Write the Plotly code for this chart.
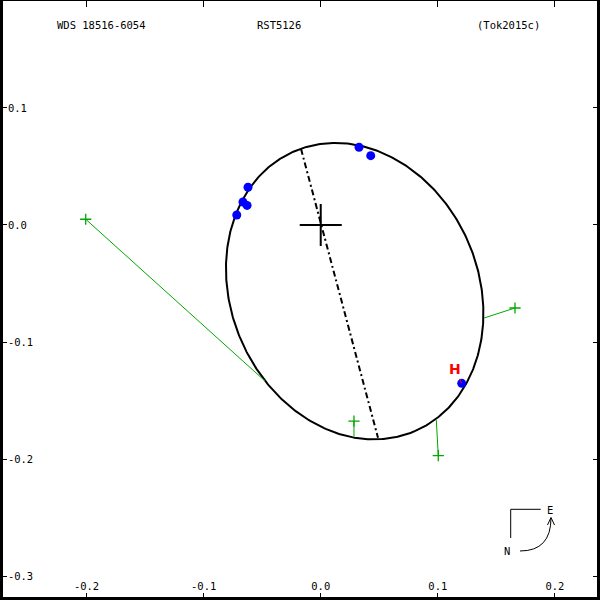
import numpy as np
import plotly.graph_objects as go

# ---------------- data ----------------
# apparent orbit ellipse (center, semi-axes, position angle of major axis in radians)
ell_center = (0.0290, -0.0565)
ell_axes = (0.1301, 0.1057)
ell_angle = -1.1614

# measured positions (blue dots)
obs_x = [-0.0621, -0.0664, -0.0629, -0.0717, 0.0327, 0.0427, 0.1204]
obs_y = [0.0322, 0.0196, 0.0167, 0.0085, 0.0664, 0.0592, -0.1352]
obs_lbl_index = 6
obs_lbl = "H"

# residual (O-C) observations: observed (+) and predicted positions on the orbit
res_obs_x = [-0.2007, 0.1659, 0.0284, 0.1004]
res_obs_y = [0.0049, -0.0709, -0.1674, -0.1970]
res_fit_x = [-0.0476, 0.1395, 0.0284, 0.0987]
res_fit_y = [-0.1332, -0.0794, -0.1808, -0.1665]

# line of nodes
node_x = [-0.0168, 0.0489]
node_y = [0.0649, -0.1817]

x_ticks = [-0.2, -0.1, 0.0, 0.1, 0.2]
x_tick_text = ["-0.2", "-0.1", "0.0", "0.1", "0.2"]
y_ticks = [0.1, 0.0, -0.1, -0.2, -0.3]
y_tick_text = ["0.1", "0.0", "-0.1", "-0.2", "-0.3"]

title_left = "WDS 18516-6054"
title_mid = "RST5126"
title_right = "(Tok2015c)"

# ---------------- figure ----------------
x0, y0 = ell_center
sa, sb = ell_axes
th = ell_angle
t = np.linspace(0, 2 * np.pi, 500)
ex = x0 + sa * np.cos(th) * np.cos(t) - sb * np.sin(th) * np.sin(t)
ey = y0 + sa * np.sin(th) * np.cos(t) + sb * np.cos(th) * np.sin(t)

green = "#00a800"
mono = "DejaVu Sans Mono"

fig = go.Figure()
fig.add_trace(go.Scatter(x=ex, y=ey, mode="lines", line=dict(color="black", width=2), hoverinfo="skip"))
fig.add_trace(go.Scatter(x=node_x, y=node_y, mode="lines",
                         line=dict(color="black", width=2, dash="6px,3px,2px,3px")))
for i in range(len(res_obs_x)):
    fig.add_trace(go.Scatter(x=[res_obs_x[i], res_fit_x[i]], y=[res_obs_y[i], res_fit_y[i]],
                             mode="lines", line=dict(color=green, width=1)))
fig.add_trace(go.Scatter(x=res_obs_x, y=res_obs_y, mode="markers",
                         marker=dict(symbol="cross-thin", size=8, line=dict(color=green, width=1.3))))
fig.add_trace(go.Scatter(x=obs_x, y=obs_y, mode="markers", marker=dict(color="#0000ff", size=9)))
fig.add_trace(go.Scatter(x=[0], y=[0], mode="markers",
                         marker=dict(symbol="cross-thin", size=30, line=dict(color="black", width=2))))

fig.add_annotation(x=obs_x[obs_lbl_index], y=obs_y[obs_lbl_index], text="<b>" + obs_lbl + "</b>",
                   showarrow=True, arrowhead=0, arrowwidth=1, arrowcolor="red", ax=-7, ay=-14, standoff=0,
                   font=dict(color="red", size=14, family="DejaVu Sans"))

for txt, xp in [(title_left, 101.4), (title_mid, 279), (title_right, 508.6)]:
    fig.add_annotation(x=xp / 600, y=1 - 25 / 600, xref="paper", yref="paper", text=txt, showarrow=False,
                       xanchor="center", yanchor="middle",
                       font=dict(family=mono, size=10.5, color="black"))


def P(px, py):
    return px / 600, 1 - py / 600


# compass (N / E)
def seg(a, b, w=1):
    (xa, ya), (xb, yb) = P(*a), P(*b)
    fig.add_shape(type="line", xref="paper", yref="paper", x0=xa, y0=ya, x1=xb, y1=yb,
                  line=dict(color="black", width=w))


seg((510.7, 509.3), (540.7, 509.3))
seg((510.7, 509.3), (510.7, 538))
a0, c0, a1 = P(520, 551), P(551, 551), P(551, 518)
fig.add_shape(type="path", xref="paper", yref="paper",
              path="M %f %f Q %f %f %f %f" % (a0[0], a0[1], c0[0], c0[1], a1[0], a1[1]),
              line=dict(color="black", width=1))
h0, h1, h2 = P(547.5, 525), P(551, 517.5), P(554.5, 525)
fig.add_shape(type="path", xref="paper", yref="paper",
              path="M %f %f L %f %f L %f %f" % (h0[0], h0[1], h1[0], h1[1], h2[0], h2[1]),
              line=dict(color="black", width=1))
for txt, (px, py) in [("E", (550, 510)), ("N", (507, 551))]:
    xx, yy = P(px, py)
    fig.add_annotation(x=xx, y=yy, xref="paper", yref="paper", text=txt, showarrow=False,
                       xanchor="center", yanchor="middle", font=dict(family=mono, size=10.5, color="black"))

fig.update_layout(
    width=600, height=600, margin=dict(l=0, r=0, t=0, b=0), showlegend=False,
    plot_bgcolor="white", paper_bgcolor="white",
    xaxis=dict(range=[-0.2739, 0.2385], tickvals=x_ticks, ticktext=x_tick_text,
               ticks="inside", ticklen=7, tickcolor="black", mirror="ticks", showline=False,
               showgrid=False, zeroline=False, ticklabelposition="inside",
               tickfont=dict(family=mono, size=10.5, color="black")),
    yaxis=dict(range=[-0.3202, 0.1921], tickvals=y_ticks, ticktext=y_tick_text,
               ticks="inside", ticklen=7, tickcolor="black", mirror="ticks", showline=False,
               showgrid=False, zeroline=False, ticklabelposition="inside",
               tickfont=dict(family=mono, size=10.5, color="black")),
)
# frame
fig.add_shape(type="line", xref="paper", yref="paper", x0=0, x1=0, y0=0, y1=1, line=dict(color="black", width=6))
fig.add_shape(type="line", xref="paper", yref="paper", x0=1, x1=1, y0=0, y1=1, line=dict(color="black", width=6))
fig.add_shape(type="line", xref="paper", yref="paper", x0=0, x1=1, y0=0, y1=0, line=dict(color="black", width=6))
fig.add_shape(type="line", xref="paper", yref="paper", x0=0, x1=1, y0=1, y1=1, line=dict(color="black", width=2))
fig.write_html("out.html")
